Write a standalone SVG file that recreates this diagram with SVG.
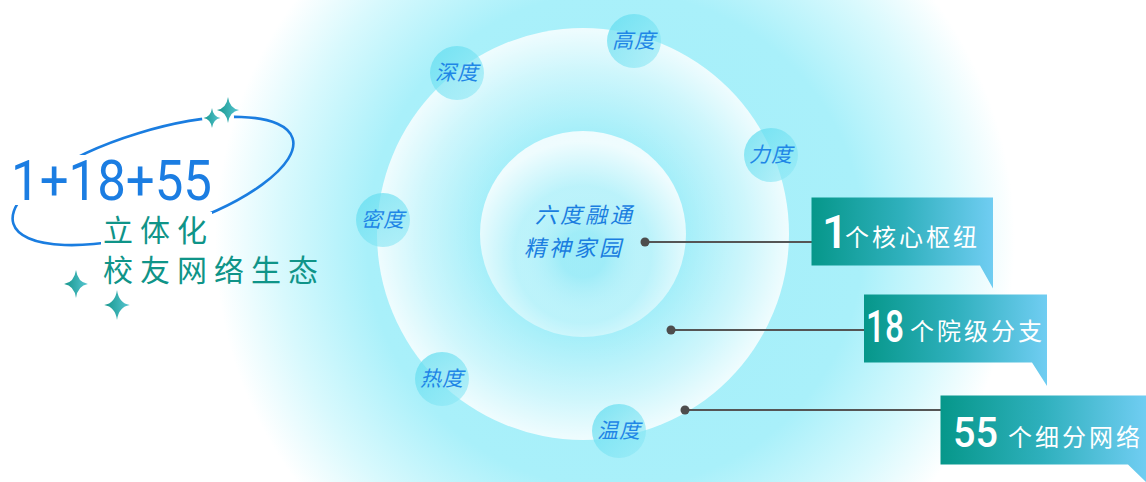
<svg xmlns="http://www.w3.org/2000/svg" width="1146" height="482" viewBox="0 0 1146 482">
  <defs>
    <radialGradient id="glow" cx="615" cy="240" r="400" gradientUnits="userSpaceOnUse">
      <stop offset="0" stop-color="#a3eef9"/>
      <stop offset="0.62" stop-color="#a9f0fa"/>
      <stop offset="0.84" stop-color="#d8f9fd"/>
      <stop offset="1" stop-color="#ffffff"/>
    </radialGradient>
    <radialGradient id="ringMid" cx="0.5" cy="0.5" r="0.5">
      <stop offset="0.5" stop-color="#ffffff" stop-opacity="0"/>
      <stop offset="0.8" stop-color="#ffffff" stop-opacity="0.45"/>
      <stop offset="1" stop-color="#ffffff" stop-opacity="0.82"/>
    </radialGradient>
    <radialGradient id="ringIn" cx="0.5" cy="0.6" r="0.55">
      <stop offset="0.2" stop-color="#9debf7" stop-opacity="0.6"/>
      <stop offset="0.6" stop-color="#ffffff" stop-opacity="0.25"/>
      <stop offset="1" stop-color="#ffffff" stop-opacity="0.82"/>
    </radialGradient>
    <linearGradient id="bubble" x1="0" y1="0" x2="1" y2="1">
      <stop offset="0" stop-color="#5edcef" stop-opacity="0.75"/>
      <stop offset="1" stop-color="#8fe8f5" stop-opacity="0.55"/>
    </linearGradient>
    <linearGradient id="tag" x1="0" y1="0" x2="1" y2="0">
      <stop offset="0" stop-color="#06978a"/>
      <stop offset="0.5" stop-color="#2fb0bd"/>
      <stop offset="1" stop-color="#70cdf2"/>
    </linearGradient>
    <linearGradient id="starG" x1="0" y1="0" x2="1" y2="0">
      <stop offset="0" stop-color="#15968c"/>
      <stop offset="1" stop-color="#58c6d2"/>
    </linearGradient>
    <path id="spark" d="M0,-1 Q0.12,-0.12 0.85,0 Q0.12,0.12 0,1 Q-0.12,0.12 -0.85,0 Q-0.12,-0.12 0,-1Z"/>
    <mask id="ellMask" maskUnits="userSpaceOnUse" x="0" y="0" width="400" height="300">
      <rect x="0" y="0" width="400" height="300" fill="#fff"/>
      <rect x="10" y="155" width="210" height="50" fill="#000"/>
      <rect x="101" y="212" width="111" height="40" fill="#000"/>
      <circle cx="218" cy="117" r="16" fill="#000"/>
    </mask>
    <style>
      .bub { fill: url(#bubble); }
      .blbl { font-family: "Noto Sans CJK SC", sans-serif; font-size: 21px; font-style: italic; fill: #1f86e6; text-anchor: middle; letter-spacing: 1px; }
      .ctr { font-family: "Noto Sans CJK SC", sans-serif; font-size: 22px; font-style: italic; fill: #1a7de0; letter-spacing: 3px; }
      .num { font-family: Roboto, "Liberation Sans", sans-serif; font-weight: 500; fill: #ffffff; }
      .tagtx { font-family: "Noto Sans CJK SC", sans-serif; font-size: 24px; fill: #ffffff; letter-spacing: 3px; }
      .conn line { stroke: #555555; stroke-width: 2; }
      .conn circle { fill: #4d4d4d; }
      .title { font-family: Roboto, "Liberation Sans", sans-serif; font-weight: 400; font-size: 56px; fill: #1b7de2; }
      .sub { font-family: "Noto Sans CJK SC", sans-serif; font-size: 30px; fill: #0f9488; letter-spacing: 7px; }
      .star { fill: url(#starG); }
    </style>
  </defs>

  <rect width="1146" height="482" fill="#ffffff"/>
  <circle cx="615" cy="240" r="400" fill="url(#glow)"/>

  <g id="ring-middle">
    <circle cx="583" cy="234" r="206" fill="url(#ringMid)"/>
  </g>
  <g id="ring-inner">
    <circle cx="583" cy="234" r="103" fill="url(#ringIn)"/>
  </g>

  <g id="core-text">
    <text class="ctr" x="535" y="223">六度融通</text>
    <text class="ctr" x="524" y="256">精神家园</text>
  </g>

  <g id="node-gaodu"><circle class="bub" cx="634" cy="41" r="27"/><text class="blbl" x="634" y="48">高度</text></g>
  <g id="node-shendu"><circle class="bub" cx="457" cy="73" r="27"/><text class="blbl" x="457" y="80">深度</text></g>
  <g id="node-lidu"><circle class="bub" cx="771" cy="155" r="27"/><text class="blbl" x="771" y="162">力度</text></g>
  <g id="node-midu"><circle class="bub" cx="383" cy="220" r="27"/><text class="blbl" x="383" y="227">密度</text></g>
  <g id="node-redu"><circle class="bub" cx="442" cy="379" r="27"/><text class="blbl" x="442" y="386">热度</text></g>
  <g id="node-wendu"><circle class="bub" cx="619" cy="431" r="27"/><text class="blbl" x="619" y="438">温度</text></g>

  <g id="connectors" class="conn">
    <line x1="645" y1="242" x2="812" y2="242"/>
    <circle cx="645" cy="242" r="4.5"/>
    <line x1="671" y1="330" x2="864" y2="330"/>
    <circle cx="671" cy="330" r="4.5"/>
    <line x1="685" y1="410" x2="941" y2="410"/>
    <circle cx="685" cy="410" r="4.5"/>
  </g>

  <g id="tag-1">
    <path d="M811.5,197.5 H993 V288.5 L980,265.5 H811.5 Z" fill="url(#tag)"/>
    <text class="num" x="822" y="248" font-size="46">1</text>
    <text class="tagtx" x="845" y="246">个核心枢纽</text>
  </g>
  <g id="tag-18">
    <path d="M864,294.5 H1047 V386 L1032,362.5 H864 Z" fill="url(#tag)"/>
    <text class="num" x="866" y="342" font-size="45" textLength="38" lengthAdjust="spacingAndGlyphs">18</text>
    <text class="tagtx" x="910" y="340">个院级分支</text>
  </g>
  <g id="tag-55">
    <path d="M940.5,395.5 H1146 V482 L1128,464.5 H940.5 Z" fill="url(#tag)"/>
    <text class="num" x="953" y="447" font-size="42" textLength="45" lengthAdjust="spacingAndGlyphs">55</text>
    <text class="tagtx" x="1008" y="446">个细分网络</text>
  </g>

  <g id="title">
    <g mask="url(#ellMask)">
      <ellipse cx="153" cy="181" rx="146" ry="50" transform="rotate(-17 153 181)" fill="none" stroke="#1a7de0" stroke-width="2.6"/>
    </g>
    <text class="title" x="11" y="200" textLength="201" lengthAdjust="spacingAndGlyphs">1+18+55</text>
    <text class="sub" x="103" y="241">立体化</text>
    <text class="sub" x="103" y="281">校友网络生态</text>
    <use href="#spark" class="star" transform="translate(228 110) scale(13)"/>
    <use href="#spark" class="star" transform="translate(212 118) scale(10)"/>
    <use href="#spark" class="star" transform="translate(76 284) scale(14)"/>
    <use href="#spark" class="star" transform="translate(117 305) scale(15)"/>
  </g>
</svg>
